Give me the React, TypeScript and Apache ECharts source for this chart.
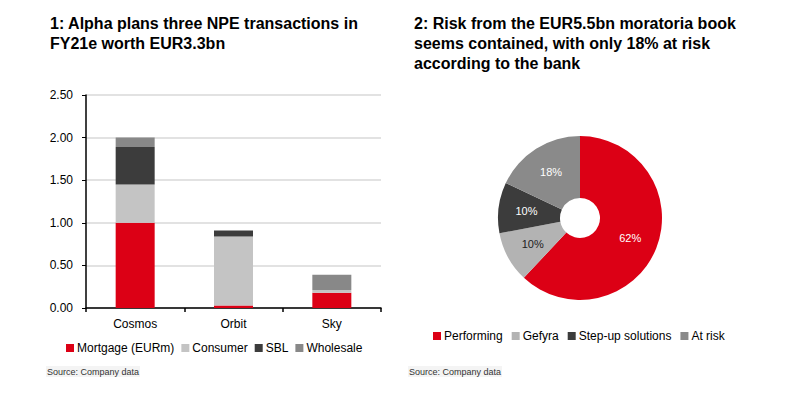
import React, { useEffect, useRef } from "react";
import * as echarts from "echarts";

const categories = ["Cosmos", "Orbit", "Sky"];
const mortgage = [1.0, 0.03, 0.18];
const consumer = [0.45, 0.81, 0.03];
const sbl = [0.44, 0.07, 0];
const wholesale = [0.11, 0, 0.18];
const barSeriesNames = ["Mortgage (EURm)", "Consumer", "SBL", "Wholesale"];
const barColors = ["#dc0015", "#c4c4c4", "#3c3c3c", "#888888"];

const pieNames = ["Performing", "Gefyra", "Step-up solutions", "At risk"];
const pieValues = [62, 10, 10, 18];
const pieColors = ["#dc0015", "#b3b3b3", "#3c3c3c", "#8a8a8a"];
const pieLabelColors = ["#ffffff", "#222222", "#ffffff", "#ffffff"];

const FONT = "'Liberation Sans', Arial, sans-serif";

export default function App() {
  const ref = useRef<HTMLDivElement>(null);
  useEffect(() => {
    if (!ref.current) return;
    const chart = echarts.init(ref.current, undefined, { renderer: "svg" });
    const barData = [mortgage, consumer, sbl, wholesale];
    const option: any = {
      animation: false,
      backgroundColor: "#ffffff",
      textStyle: { fontFamily: FONT },
      title: [
        {
          text: "1: Alpha plans three NPE transactions in\nFY21e worth EUR3.3bn",
          left: 45,
          top: 8,
          textStyle: { fontFamily: FONT, fontSize: 16, fontWeight: "bold", color: "#000", lineHeight: 20 },
        },
        {
          text: "2: Risk from the EUR5.5bn moratoria book\nseems contained, with only 18% at risk\naccording to the bank",
          left: 409,
          top: 8,
          textStyle: { fontFamily: FONT, fontSize: 16, fontWeight: "bold", color: "#000", lineHeight: 20 },
        },
      ],
      graphic: [
        {
          type: "text",
          left: 46,
          top: 366,
          style: { text: "Source: Company data", font: `9px ${FONT}`, fill: "#333", backgroundColor: "#f4f4f4", padding: [1, 1] },
        },
        {
          type: "text",
          left: 408,
          top: 366,
          style: { text: "Source: Company data", font: `9px ${FONT}`, fill: "#333", backgroundColor: "#f4f4f4", padding: [1, 1] },
        },
      ],
      legend: [
        {
          data: barSeriesNames,
          left: 61,
          top: 337,
          itemWidth: 8,
          itemHeight: 8,
          itemGap: 7,
          icon: "rect",
          textStyle: { fontFamily: FONT, fontSize: 12, color: "#000", padding: [0, 0, 0, -2] },
        },
        {
          data: pieNames,
          left: 428,
          top: 325,
          itemWidth: 8,
          itemHeight: 8,
          itemGap: 9,
          icon: "rect",
          textStyle: { fontFamily: FONT, fontSize: 12, color: "#000", padding: [0, 0, 0, -2] },
        },
      ],
      grid: { left: 86, right: 419, top: 95, bottom: 90, containLabel: false },
      xAxis: {
        type: "category",
        data: categories,
        axisLine: { lineStyle: { color: "#000", width: 1.5 } },
        axisTick: { show: true, length: 4, lineStyle: { color: "#000", width: 1.5 } },
        axisLabel: { fontFamily: FONT, fontSize: 12, color: "#000", margin: 10 },
      },
      yAxis: {
        type: "value",
        min: 0,
        max: 2.5,
        interval: 0.5,
        axisLine: { show: true, lineStyle: { color: "#000", width: 1.5 } },
        axisTick: { show: true, length: 4, lineStyle: { color: "#000", width: 1 } },
        axisLabel: { fontFamily: FONT, fontSize: 12, color: "#000", margin: 13, formatter: (v: number) => v.toFixed(2) },
        splitLine: { lineStyle: { color: "#d9d9d9", width: 1.5 } },
      },
      series: [
        ...barSeriesNames.map((name, i) => ({
          name,
          type: "bar",
          stack: "total",
          barWidth: 39,
          data: barData[i],
          itemStyle: { color: barColors[i] },
        })),
        {
          type: "pie",
          center: [580, 218],
          radius: [20, 82],
          startAngle: 90,
          clockwise: true,
          data: pieNames.map((name, i) => ({
            name,
            value: pieValues[i],
            itemStyle: { color: pieColors[i] },
            label: { color: pieLabelColors[i] },
          })),
          label: {
            show: true,
            position: "inside",
            formatter: "{c}%",
            fontFamily: FONT,
            fontSize: 11,
          },
          labelLine: { show: false },
          emphasis: { disabled: true },
        },
      ],
    };
    chart.setOption(option);
    return () => chart.dispose();
  }, []);
  return <div ref={ref} style={{ width: 800, height: 398, position: "absolute", left: 0, top: 0 }} />;
}
